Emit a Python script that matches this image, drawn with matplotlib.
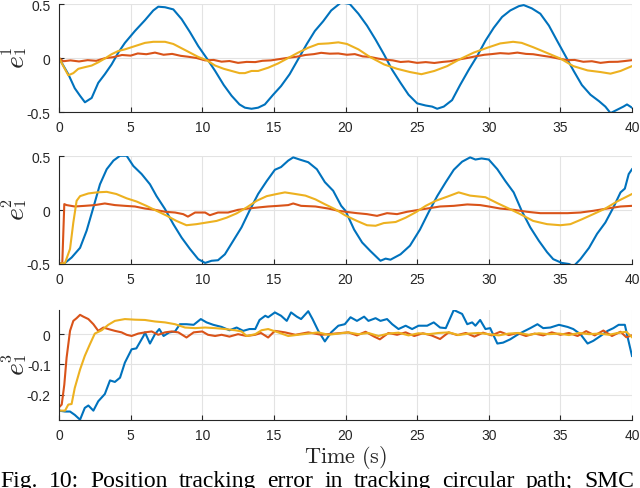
import numpy as np
import matplotlib
matplotlib.use("Agg")
import matplotlib.pyplot as plt

plt.rcParams['mathtext.fontset'] = 'cm'

BLUE, RED, YEL = '#0072BD', '#D95319', '#EDB120'

# ---------------- panel 1 : e_1^1 ----------------
t1_blue = [0, 0.65, 1.1, 1.47, 1.81, 2.28, 2.74, 3.2, 3.67, 4.14, 4.6, 5.3, 6.0, 6.58, 6.93, 7.4, 7.98, 8.56, 9.14, 9.72,
           10.3, 10.9, 11.5, 12.05, 12.6, 12.98, 13.44, 13.9, 14.37, 14.95, 15.5, 16.1, 16.7, 17.3, 17.86, 18.44, 19.0, 19.7,
           20.3, 20.9, 21.5, 22.1, 22.7, 23.26, 23.84, 24.4, 25.0, 25.6, 26.05, 26.4, 26.86, 27.44, 28.0, 28.6, 29.2, 29.77,
           30.35, 30.93, 31.5, 32.1, 32.44, 33.0, 33.6, 34.2, 34.77, 35.35, 35.93, 36.5, 37.1, 37.7, 38.14, 38.5, 38.95,
           39.4, 39.65, 40]
v1_blue = [0, -0.15, -0.28, -0.35, -0.41, -0.37, -0.23, -0.15, -0.06, 0.05, 0.14, 0.25, 0.35, 0.44, 0.475, 0.47, 0.45, 0.36,
           0.24, 0.11, 0.0, -0.12, -0.25, -0.35, -0.43, -0.46, -0.47, -0.46, -0.43, -0.34, -0.26, -0.15, -0.01, 0.13, 0.25,
           0.34, 0.44, 0.515, 0.5, 0.41, 0.30, 0.17, 0.03, -0.11, -0.23, -0.34, -0.42, -0.44, -0.45, -0.47, -0.45, -0.39,
           -0.25, -0.11, 0.02, 0.16, 0.28, 0.38, 0.44, 0.48, 0.49, 0.46, 0.41, 0.30, 0.16, 0.02, -0.12, -0.25, -0.34, -0.40,
           -0.45, -0.51, -0.48, -0.45, -0.43, -0.46]

t1_yel = [0, 0.3, 0.65, 1.0, 1.35, 1.8, 2.28, 2.74, 3.2, 3.67, 4.14, 4.6, 5.3, 6.0, 6.58, 7.4, 7.98, 8.56, 9.14, 9.72, 10.3,
          10.9, 11.5, 12.05, 12.6, 12.98, 13.44, 13.9, 14.6, 15.3, 16.0, 16.7, 17.4, 18.1, 18.8, 19.5, 20.1, 20.9, 21.7,
          22.7, 23.6, 24.5, 25.3, 26.2, 27.1, 28.0, 28.95, 29.9, 30.8, 31.7, 32.3, 33.1, 34.1, 35.0, 35.9, 36.9, 37.8,
          38.5, 39.2, 40]
v1_yel = [0, -0.075, -0.16, -0.14, -0.10, -0.085, -0.07, -0.04, -0.005, 0.035, 0.065, 0.08, 0.11, 0.14, 0.15, 0.15, 0.13,
          0.09, 0.05, 0.01, -0.02, -0.07, -0.10, -0.12, -0.14, -0.14, -0.12, -0.12, -0.09, -0.05, 0.0, 0.05, 0.095, 0.13,
          0.135, 0.145, 0.13, 0.08, 0.01, -0.06, -0.10, -0.13, -0.15, -0.12, -0.075, -0.01, 0.05, 0.095, 0.135, 0.15,
          0.14, 0.10, 0.045, -0.005, -0.075, -0.115, -0.13, -0.145, -0.12, -0.075]

t1_red = [0, 0.3, 0.8, 1.4, 2.0, 2.6, 3.2, 3.8, 4.4, 5.0, 5.5, 6.1, 6.7, 7.3, 7.9, 8.5, 9.0, 9.6, 10.2, 10.8, 11.35, 11.9,
          12.5, 13.1, 13.7, 14.2, 14.8, 15.4, 16.0, 16.6, 17.2, 17.8, 18.3, 18.9, 19.5, 20.1, 20.65, 21.2, 21.7, 22.3,
          22.7, 23.3, 23.84, 24.4, 25.0, 25.6, 26.2, 26.8, 27.3, 27.9, 28.5, 29.1, 29.7, 30.2, 30.8, 31.4, 32.0, 32.6,
          33.1, 33.7, 34.3, 34.9, 35.5, 36.0, 36.6, 37.2, 37.8, 38.4, 39.0, 39.5, 40]
v1_red = [0, -0.03, -0.022, -0.032, -0.02, -0.026, -0.002, 0.008, 0.028, 0.022, 0.042, 0.035, 0.05, 0.03, 0.038, 0.02,
          0.012, 0.0, -0.022, -0.018, -0.034, -0.028, -0.045, -0.036, -0.038, -0.026, -0.022, -0.01, 0.002, 0.012, 0.028,
          0.036, 0.048, 0.04, 0.042, 0.03, 0.036, 0.015, 0.01, -0.006, -0.014, -0.022, -0.037, -0.032, -0.045, -0.038,
          -0.046, -0.036, -0.03, -0.014, 0.0, 0.016, 0.03, 0.036, 0.045, 0.04, 0.05, 0.038, 0.035, 0.022, 0.01, -0.006,
          -0.02, -0.018, -0.035, -0.03, -0.045, -0.036, -0.035, -0.028, -0.02]

# ---------------- panel 2 : e_1^2 ----------------
t2_blue = [0, 0.42, 0.88, 1.47, 1.93, 2.4, 2.86, 3.33, 3.8, 4.26, 4.72, 5.19, 5.77, 6.35, 6.81, 7.4, 7.98, 8.56, 9.14, 9.72,
           10.2, 10.65, 11.1, 11.58, 12.16, 12.74, 13.3, 13.9, 14.5, 15.07, 15.5, 16.0, 16.35, 16.8, 17.4, 18.0, 18.56,
           19.14, 19.7, 20.0, 20.6, 21.16, 21.74, 22.44, 22.8, 23.14, 23.84, 24.5, 25.2, 25.8, 26.4, 27.0, 27.56, 28.14,
           28.7, 29.07, 29.5, 30.0, 30.6, 31.16, 31.74, 32.3, 32.9, 33.5, 34.07, 34.5, 35.1, 35.6, 35.93, 36.4, 37.0,
           37.56, 38.14, 38.7, 39.2, 39.5, 39.77, 40]
v2_blue = [-0.5, -0.49, -0.44, -0.35, -0.19, 0.025, 0.24, 0.38, 0.46, 0.505, 0.505, 0.41, 0.335, 0.24, 0.13, 0.01, -0.13,
           -0.255, -0.36, -0.455, -0.49, -0.47, -0.465, -0.41, -0.285, -0.16, -0.005, 0.15, 0.27, 0.375, 0.40, 0.46, 0.49,
           0.47, 0.445, 0.38, 0.26, 0.18, 0.04, -0.006, -0.18, -0.30, -0.38, -0.47, -0.45, -0.46, -0.41, -0.33, -0.18,
           -0.02, 0.13, 0.26, 0.375, 0.45, 0.49, 0.47, 0.48, 0.47, 0.38, 0.27, 0.165, -0.006, -0.16, -0.285, -0.39,
           -0.455, -0.49, -0.50, -0.52, -0.455, -0.35, -0.22, -0.115, 0.025, 0.165, 0.20, 0.335, 0.38]

t2_yel = [0, 0.42, 0.77, 1.0, 1.23, 1.47, 2.05, 2.63, 3.33, 4.0, 4.72, 5.42, 6.1, 6.81, 7.5, 8.2, 8.9, 9.6, 10.3, 11.0,
          11.7, 12.4, 13.1, 13.8, 14.5, 15.2, 15.77, 16.5, 17.2, 17.9, 18.56, 19.26, 20.0, 20.8, 21.5, 22.1, 22.67, 23.5,
          24.2, 24.9, 25.6, 26.3, 27.1, 27.9, 28.7, 29.77, 30.6, 31.4, 32.2, 33.1, 34.07, 35.0, 35.7, 36.5, 37.3, 38.14,
          38.95, 40]
v2_yel = [-0.5, -0.49, -0.36, -0.115, 0.087, 0.13, 0.155, 0.165, 0.17, 0.15, 0.11, 0.08, 0.04, -0.006, -0.05, -0.10,
          -0.14, -0.13, -0.115, -0.10, -0.07, -0.03, 0.025, 0.087, 0.13, 0.15, 0.165, 0.15, 0.135, 0.10, 0.055, 0.01,
          -0.05, -0.10, -0.14, -0.145, -0.12, -0.11, -0.07, -0.02, 0.04, 0.087, 0.125, 0.165, 0.135, 0.12, 0.065, 0.015,
          -0.037, -0.10, -0.13, -0.14, -0.13, -0.085, -0.037, 0.015, 0.08, 0.15]

t2_red = [0, 0.23, 0.37, 0.53, 1.1, 1.8, 2.5, 3.2, 3.9, 4.6, 5.3, 6.0, 6.7, 7.4, 8.1, 8.67, 9.0, 9.5, 10.2, 10.53, 11.1,
          11.8, 12.5, 13.2, 13.9, 14.6, 15.3, 16.0, 16.35, 16.9, 17.9, 18.8, 19.5, 20.0, 20.8, 21.5, 22.2, 22.9, 23.6,
          24.3, 25.0, 25.7, 26.6, 27.56, 28.5, 29.4, 30.0, 30.8, 31.74, 32.67, 33.6, 34.5, 35.5, 36.4, 37.3, 38.26,
          39.2, 40]
v2_red = [-0.5, -0.49, 0.056, 0.047, 0.034, 0.04, 0.047, 0.062, 0.047, 0.04, 0.034, 0.015, 0.003, -0.015, -0.022, -0.037,
          -0.06, -0.022, -0.022, -0.047, -0.022, -0.022, 0.003, 0.015, 0.025, 0.034, 0.04, 0.047, 0.062, 0.04, 0.034,
          0.015, -0.006, -0.015, -0.028, -0.037, -0.053, -0.028, -0.037, -0.015, 0.0, 0.015, 0.034, 0.04, 0.053, 0.047,
          0.034, 0.015, 0.003, -0.015, -0.028, -0.028, -0.028, -0.022, -0.006, 0.015, 0.034, 0.04]

# ---------------- panel 3 : e_1^3 ----------------
t3_blue = [0, 0.42, 0.77, 1.1, 1.47, 1.8, 2.05, 2.4, 2.74, 3.2, 3.56, 3.9, 4.26, 4.6, 5.07, 5.4, 5.9, 6.0, 6.35, 6.7,
           7.0, 7.3, 7.7, 8.1, 8.44, 8.9, 9.4, 9.9, 10.3, 10.77, 11.35, 11.9, 12.4, 12.86, 13.3, 13.7, 14.0, 14.4, 14.6,
           15.07, 15.5, 15.9, 16.2, 16.6, 16.9, 17.4, 17.7, 18.1, 18.56, 19.0, 19.5, 19.95, 20.35, 20.8, 21.3, 21.6,
           22.1, 22.44, 22.9, 23.26, 23.7, 24.2, 24.65, 25.1, 25.7, 26.16, 26.6, 27.0, 27.56, 28.14, 28.5, 28.84, 29.07,
           29.4, 29.77, 30.1, 30.6, 31.0, 31.5, 32.0, 32.44, 32.9, 33.4, 33.8, 34.3, 34.9, 35.5, 35.9, 36.4, 36.9, 37.3,
           37.8, 38.3, 38.7, 39.07, 39.5, 39.7, 40]
v3_blue = [-0.253, -0.256, -0.256, -0.267, -0.283, -0.244, -0.236, -0.253, -0.222, -0.198, -0.153, -0.158, -0.144,
           -0.094, -0.05, -0.047, -0.006, 0.006, -0.031, 0.0, 0.017, -0.006, 0.006, 0.009, 0.033, 0.033, 0.031, 0.05,
           0.039, 0.031, 0.024, 0.013, 0.022, 0.011, 0.017, 0.017, 0.047, 0.061, 0.056, 0.072, 0.061, 0.044, 0.072,
           0.058, 0.05, 0.076, 0.05, 0.011, -0.024, 0.006, 0.028, 0.033, 0.056, 0.044, 0.058, 0.044, 0.053, 0.044, 0.05,
           0.033, 0.017, 0.028, 0.017, 0.028, 0.028, 0.039, 0.022, 0.02, 0.08, 0.067, 0.033, 0.039, 0.028, 0.047, 0.017,
           0.02, -0.031, -0.028, -0.017, -0.002, 0.009, 0.02, 0.033, 0.02, 0.022, 0.031, 0.024, 0.017, 0.0, -0.031,
           -0.022, -0.006, 0.011, 0.02, 0.031, 0.031, -0.011, -0.072]

t3_red = [0, 0.19, 0.37, 0.53, 0.77, 1.0, 1.23, 1.47, 1.7, 2.05, 2.4, 2.74, 3.1, 3.44, 3.9, 4.37, 4.72, 5.07, 5.53, 6.0,
          6.47, 6.93, 7.4, 7.86, 8.33, 8.9, 9.4, 10.0, 10.4, 10.9, 11.35, 11.9, 12.5, 13.1, 13.7, 14.1, 14.6, 15.07,
          15.77, 16.5, 17.4, 18.3, 19.26, 20.2, 20.8, 21.4, 22.0, 22.4, 23.0, 23.6, 24.2, 24.8, 25.4, 26.0, 26.6, 27.2,
          27.8, 28.4, 29.0, 29.6, 30.2, 30.8, 31.4, 32.0, 32.6, 33.2, 33.8, 34.4, 35.0, 35.6, 36.2, 36.8, 37.4, 38.0,
          38.6, 39.2, 39.6, 40]
v3_red = [-0.242, -0.233, -0.167, -0.078, 0.011, 0.044, 0.053, 0.064, 0.058, 0.05, 0.033, 0.011, 0.022, 0.017, 0.011,
          0.006, -0.002, -0.006, 0.002, 0.006, 0.009, -0.002, 0.006, 0.009, 0.006, -0.011, 0.006, 0.009, -0.002, -0.006,
          -0.002, -0.008, 0.0, -0.006, -0.002, 0.004, -0.011, 0.011, 0.006, -0.002, 0.006, -0.002, 0.002, 0.006,
          -0.004, 0.008, -0.008, -0.017, 0.004, -0.002, 0.006, -0.006, 0.003, -0.004, -0.016, 0.006, -0.003, 0.004,
          -0.008, 0.005, -0.004, 0.008, -0.003, 0.004, -0.006, 0.002, -0.004, 0.006, -0.002, 0.004, -0.006, 0.01,
          -0.004, 0.012, -0.006, 0.008, -0.01, -0.004]

t3_yel = [0, 0.42, 0.65, 0.88, 1.1, 1.47, 1.8, 2.16, 2.5, 2.98, 3.44, 3.9, 4.6, 5.3, 6.0, 6.7, 7.4, 8.1, 8.8, 9.5, 10.2,
          10.9, 11.6, 12.3, 12.74, 13.1, 13.7, 14.14, 14.6, 15.3, 16.0, 16.7, 17.4, 18.1, 18.8, 19.5, 20.2, 20.9, 21.6,
          22.3, 23.0, 23.7, 24.4, 25.1, 25.8, 26.5, 27.2, 27.9, 28.6, 29.3, 30.0, 30.7, 31.4, 32.1, 32.8, 33.5, 34.2,
          34.9, 35.6, 36.3, 37.0, 37.7, 38.4, 39.1, 39.6, 40]
v3_yel = [-0.253, -0.253, -0.233, -0.231, -0.178, -0.117, -0.072, -0.033, 0.002, 0.013, 0.031, 0.044, 0.05, 0.048,
          0.047, 0.042, 0.039, 0.033, 0.022, 0.02, 0.022, 0.02, 0.017, 0.013, 0.009, -0.006, 0.0, 0.013, 0.017, 0.006,
          -0.006, -0.002, 0.002, 0.006, -0.002, 0.002, 0.006, 0.0, 0.004, -0.006, 0.002, 0.005, -0.004, 0.003, 0.0,
          0.004, 0.006, -0.003, 0.002, 0.004, 0.0, -0.004, 0.002, 0.004, -0.002, 0.003, 0.0, 0.002, -0.003, 0.004, 0.0,
          0.002, -0.002, 0.005, 0.008, -0.01]

x_ticks = [0, 5, 10, 15, 20, 25, 30, 35, 40]
y_ticks = [[-0.5, 0, 0.5], [-0.5, 0, 0.5], [-0.2, -0.1, 0]]
y_ticklabels = [['-0.5', '0', '0.5'], ['-0.5', '0', '0.5'], ['-0.2', '-0.1', '0']]
y_limits = [(-0.5, 0.5), (-0.5, 0.5), (-0.283, 0.081)]
# y label e_1^k: base letter, subscript, superscript
y_label_base = r'$e$'
y_label_sub = ['1', '1', '1']
y_label_sup = ['1', '2', '3']
x_label = r'$\mathrm{Time\ (s)}$'
caption_words = ['Fig.', '10:', 'Position', 'tracking', 'error', 'in', 'tracking', 'circular', 'path;', 'SMC']

panels = [
    [(t1_blue, v1_blue, BLUE), (t1_red, v1_red, RED), (t1_yel, v1_yel, YEL)],
    [(t2_blue, v2_blue, BLUE), (t2_red, v2_red, RED), (t2_yel, v2_yel, YEL)],
    [(t3_blue, v3_blue, BLUE), (t3_red, v3_red, RED), (t3_yel, v3_yel, YEL)],
]

W, H = 640, 489
fig = plt.figure(figsize=(W / 100, H / 100), dpi=100)
renderer = fig.canvas.get_renderer()
boxes = [(5, 113), (157.3, 265), (310.7, 420.7)]
L, R = 59, 632
tick_font = dict(family='Liberation Sans', size=10)


def ftext(xpx, ypx, s, **kw):
    return fig.text(xpx / W, 1 - ypx / H, s, **kw)


for i, (ax_box, series) in enumerate(zip(boxes, panels)):
    top, bot = ax_box
    ax = fig.add_axes([L / W, 1 - bot / H, (R - L) / W, (bot - top) / H])
    for t, v, c in series:
        ax.plot(np.array(t), np.array(v), color=c, lw=1.5, solid_joinstyle='round')
    ax.set_xlim(0, 40)
    ax.set_ylim(*y_limits[i])
    ax.set_xticks(x_ticks)
    ax.set_xticklabels([str(x) for x in x_ticks], fontdict=tick_font, color='#262626')
    ax.set_yticks(y_ticks[i])
    ax.set_yticklabels(y_ticklabels[i], fontdict=tick_font, color='#262626')
    ax.grid(True, color='#e3e3e3', lw=0.8)
    ax.set_axisbelow(True)
    for s in ['top', 'right']:
        ax.spines[s].set_visible(False)
    for s in ['left', 'bottom']:
        ax.spines[s].set_color('#262626')
        ax.spines[s].set_linewidth(0.8)
    ax.tick_params(direction='in', length=3.5, width=0.8, color='#262626', pad=6)

    # rotated y label e_1^k, composed so it stays compact like the TeX original
    yc = (top + bot) / 2
    common = dict(rotation=90, rotation_mode='anchor', ha='left', va='baseline', color='#262626')
    ftext(23.5, yc + 10, y_label_base, fontsize=20, **common)
    ftext(26, yc - 3, r'$\mathrm{%s}$' % y_label_sub[i], fontsize=11.5, **common)
    ftext(12, yc - 3, r'$\mathrm{%s}$' % y_label_sup[i], fontsize=11.5, **common)

ftext((L + R) / 2, 463, x_label, fontsize=16, ha='center', va='baseline', color='#262626')

# justified caption line: first word at left edge, last word ending at the right edge
cap_texts = [ftext(0, 487, w, fontsize=17, family='Liberation Serif', ha='left', va='baseline',
                   color='black') for w in caption_words]
widths = [tx.get_window_extent(renderer=renderer).width for tx in cap_texts]
right_edge = 634.0
gap = (right_edge - sum(widths)) / (len(widths) - 1)
xpos = 0.0
for tx, wd in zip(cap_texts, widths):
    tx.set_x(xpos / W)
    xpos += wd + gap

fig.savefig('out.png', dpi=100)
